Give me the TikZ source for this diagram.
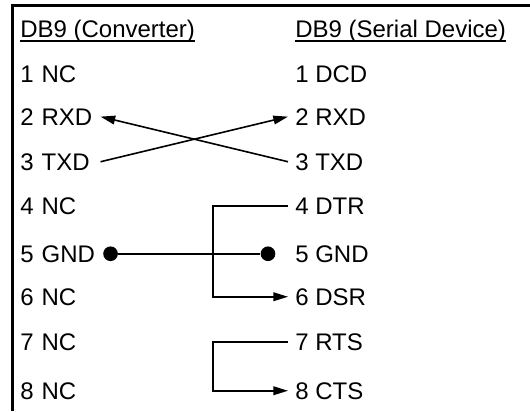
\documentclass[tikz,border=0pt]{standalone}
\usepackage{fontspec}
\setmainfont{Liberation Sans}
\usetikzlibrary{arrows.meta}

\begin{document}
\begin{tikzpicture}[x=0.75pt, y=-0.75pt,
    pinfont/.style={font=\fontsize{18}{21}\selectfont},
    head/.style={pinfont, anchor=base west, inner sep=0pt},
    pinL/.style={pinfont, anchor=base west, inner xsep=0pt, inner ysep=0pt, text width=60pt},
    pinR/.style={pinfont, anchor=base west, inner xsep=5.25pt, inner ysep=0pt},
    wire/.style={line width=1.2pt},
    tip/.style={-{Triangle[length=11pt, width=6.5pt]}},
    dot/.style={circle, fill, inner sep=0pt, minimum size=11pt}]
      \useasboundingbox (0,0) rectangle (530,411);

      % frame
      \draw[line width=2.25pt] (12,411) -- (12,5.5) -- (530,5.5);

      % headers
      \node[head] (hdrL) at (20,37) {DB9 (Converter)};
      \node[head] (hdrR) at (295,37) {DB9 (Serial Device)};
      \draw[line width=1pt] ([yshift=-3pt]hdrL.base west) -- ([yshift=-3pt]hdrL.base east);
      \draw[line width=1pt] ([yshift=-3pt]hdrR.base west) -- ([yshift=-3pt]hdrR.base east);

      % converter side
      \node[pinL] (ncA) at (20,82) {1 NC};
      \node[pinL] (rxdL) at (20,125) {2 RXD};
      \node[pinL] (txdL) at (20,170) {3 TXD};
      \node[pinL] (ncB) at (20,214) {4 NC};
      \node[pinL] (gndL) at (20,262) {5 GND};
      \node[pinL] (ncC) at (20,305) {6 NC};
      \node[pinL] (ncD) at (20,350) {7 NC};
      \node[pinL] (ncE) at (20,399) {8 NC};

      % serial device side
      \node[pinR] (dcdR) at (288,82) {1 DCD};
      \node[pinR] (rxdR) at (288,125) {2 RXD};
      \node[pinR] (txdR) at (288,170) {3 TXD};
      \node[pinR] (dtrR) at (288,214) {4 DTR};
      \node[pinR] (gndR) at (288,262) {5 GND};
      \node[pinR] (dsrR) at (288,305) {6 DSR};
      \node[pinR] (rtsR) at (288,350) {7 RTS};
      \node[pinR] (ctsR) at (288,399) {8 CTS};

      \node[dot] (gndA) at ([xshift=7.5pt]gndL.east) {};
      \node[dot] (gndB) at ([xshift=-15pt]gndR.west) {};
      \coordinate (bus) at (213,0);

      % wiring
      \draw[wire, tip] (txdR.west) -- (rxdL.east);
      \draw[wire, tip] (txdL.east) -- (rxdR.west);
      \draw[wire] (gndA) -- (gndB);
      \draw[wire, tip] (dtrR.west) -- (dtrR.west -| bus) |- (dsrR.west);
      \draw[wire, tip] (rtsR.west) -- (rtsR.west -| bus) |- (ctsR.west);
    \end{tikzpicture}
\end{document}
